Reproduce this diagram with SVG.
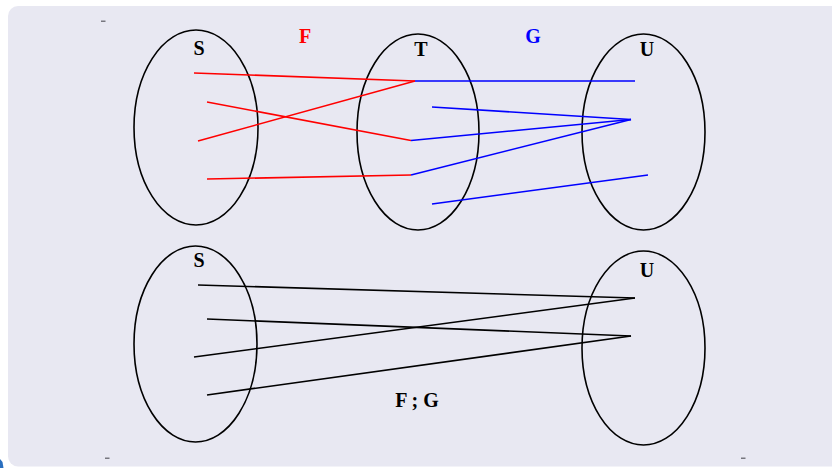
<svg xmlns="http://www.w3.org/2000/svg" width="832" height="468" viewBox="0 0 832 468">
<style>
.set{fill:none;stroke:#000;stroke-width:1.6}
.lbl{font-family:"Liberation Serif","Times New Roman",serif;font-weight:bold;font-size:20px;text-anchor:middle}
.r{stroke:#ff0000;stroke-width:1.6;fill:none}
.b{stroke:#0000ff;stroke-width:1.6;fill:none}
.k{stroke:#000;stroke-width:1.6;fill:none}
.mark{fill:#77777f}
</style>
<rect x="0" y="0" width="832" height="468" fill="#ffffff"/>
<rect x="8" y="6" width="840" height="460.5" rx="10" ry="10" fill="#e8e8f2"/>
<rect class="mark" x="101" y="20.5" width="4.5" height="1.5"/>
<rect class="mark" x="105" y="457.5" width="4.5" height="1.5"/>
<rect class="mark" x="741" y="457.5" width="4.5" height="1.5"/>
<path d="M0,468 L0,459 L2.5,462 L3.5,468 Z" fill="#2a6fbf"/>

<g id="S1"><ellipse class="set" cx="196" cy="127.5" rx="62" ry="97.5"/><text class="lbl" x="199" y="55">S</text></g>
<g id="T1"><ellipse class="set" cx="418" cy="132" rx="61" ry="98"/><text class="lbl" x="421" y="56">T</text></g>
<g id="U1"><ellipse class="set" cx="643.5" cy="132" rx="61.5" ry="98"/><text class="lbl" x="647" y="56">U</text></g>
<g id="S2"><ellipse class="set" cx="195.5" cy="344" rx="61.5" ry="98"/><text class="lbl" x="199" y="267">S</text></g>
<g id="U2"><ellipse class="set" cx="643.5" cy="348" rx="61.5" ry="97"/><text class="lbl" x="647" y="277">U</text></g>

<g id="labels">
<text class="lbl" x="305" y="43" fill="#ff0000">F</text>
<text class="lbl" x="533" y="43" fill="#0000ff">G</text>
<text class="lbl" x="417" y="407">F ; G</text>
</g>

<g id="connectors">
<g class="r">
<line x1="194" y1="73" x2="415" y2="81"/>
<line x1="207" y1="102" x2="411" y2="140.5"/>
<line x1="198" y1="141" x2="415" y2="81"/>
<line x1="207" y1="179" x2="411" y2="175"/>
</g>
<g class="b">
<line x1="415" y1="81" x2="635" y2="81"/>
<line x1="432" y1="107" x2="631" y2="119.5"/>
<line x1="411" y1="140.5" x2="631" y2="119.5"/>
<line x1="411" y1="175" x2="631" y2="119.5"/>
<line x1="432" y1="204" x2="648" y2="175"/>
</g>
<g class="k">
<line x1="198" y1="285" x2="635" y2="298"/>
<line x1="207" y1="319" x2="631" y2="336"/>
<line x1="194" y1="357" x2="635" y2="298"/>
<line x1="207" y1="395" x2="631" y2="336"/>
</g>
</g>
</svg>
